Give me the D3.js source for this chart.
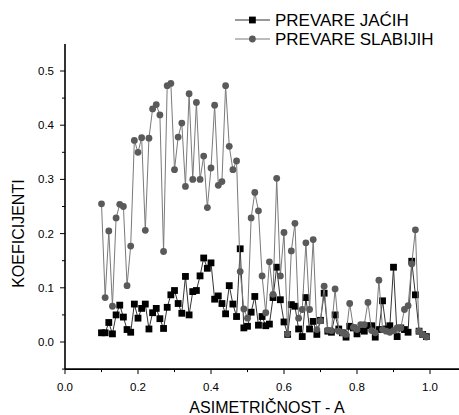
<!DOCTYPE html>
<meta charset="utf-8">
<style>
body{ margin:0; background:#fff; }
svg text{ font-family:"Liberation Sans", Arial, sans-serif; fill:#000; }
.axis path, .axis line{ stroke:#000; }
</style>
<body>
<script src="https://cdn.jsdelivr.net/npm/d3@7"></script>
<script>

var width = 459,
    height = 415;

// asimetricnost A (x)
var xValues = d3.range(10, 100).map(function(i){ return i / 100; });

// PREVARE JACIH (black squares)
var jacih = [0.017,0.017,0.036,0.015,0.050,0.068,0.046,0.023,0.018,0.070,
             0.044,0.062,0.070,0.024,0.054,0.062,0.043,0.025,0.064,0.087,
             0.095,0.071,0.053,0.121,0.050,0.093,0.095,0.122,0.155,0.136,
             0.146,0.079,0.085,0.071,0.052,0.104,0.070,0.047,0.172,0.026,
             0.029,0.055,0.084,0.031,0.047,0.030,0.033,0.082,0.138,0.078,
             0.037,0.014,0.069,0.066,0.024,0.010,0.082,0.024,0.038,0.014,
             0.040,0.090,0.020,0.018,0.050,0.024,0.017,0.009,0.029,0.026,
             0.015,0.023,0.020,0.030,0.030,0.009,0.023,0.076,0.024,0.030,
             0.138,0.010,0.026,0.023,0.018,0.149,0.087,0.020,0.014,0.010];

// PREVARE SLABIJIH (grey circles)
var slabijih = [0.255,0.082,0.205,0.066,0.229,0.254,0.250,0.104,0.177,0.372,
                0.350,0.377,0.206,0.376,0.430,0.438,0.419,0.167,0.473,0.477,
                0.318,0.378,0.404,0.287,0.458,0.300,0.442,0.300,0.343,0.248,
                0.321,0.437,0.289,0.296,0.473,0.361,0.318,0.334,0.130,0.061,
                0.044,0.229,0.276,0.242,0.122,0.054,0.148,0.088,0.302,0.122,
                0.202,0.015,0.168,0.219,0.044,0.060,0.183,0.060,0.189,0.023,
                0.039,0.103,0.022,0.021,0.098,0.020,0.017,0.014,0.071,0.027,
                0.023,0.032,0.032,0.073,0.021,0.017,0.114,0.023,0.020,0.018,
                0.021,0.026,0.026,0.060,0.067,0.144,0.207,0.020,0.014,0.009];

var xTicks = [0.0, 0.2, 0.4, 0.6, 0.8, 1.0];
var yTicks = [0.0, 0.1, 0.2, 0.3, 0.4, 0.5];

var x = d3.scaleLinear().domain([0, 1]).range([65, 430]);
var y = d3.scaleLinear().domain([0, 0.5]).range([342, 71]);

var svg = d3.select("body").append("svg")
    .attr("width", width)
    .attr("height", height);

// axes
var xAxis = svg.append("g").attr("class","axis")
    .attr("transform","translate(0," + y(-0.05) + ")");
xAxis.append("line")
    .attr("x1", x(0)).attr("x2", width)
    .attr("stroke-width", 1.6);
xAxis.selectAll(".minor")
    .data(d3.range(1, 11, 2).map(function(i){ return i / 10; }))
    .enter().append("line")
    .attr("x1", function(d){ return x(d); })
    .attr("x2", function(d){ return x(d); })
    .attr("y1", 0).attr("y2", 3);
xAxis.selectAll(".major")
    .data(xTicks)
    .enter().append("line")
    .attr("x1", function(d){ return x(d); })
    .attr("x2", function(d){ return x(d); })
    .attr("y1", 0).attr("y2", 5);
xAxis.selectAll("text")
    .data(xTicks)
    .enter().append("text")
    .attr("x", function(d){ return x(d); })
    .attr("y", 22)
    .attr("text-anchor","middle")
    .style("font-size","11.5px")
    .text(d3.format(".1f"));

var yAxis = svg.append("g").attr("class","axis")
    .attr("transform","translate(" + x(0) + ",0)");
yAxis.append("line")
    .attr("y1", y(-0.05)).attr("y2", y(0.55))
    .attr("stroke-width", 1.6);
yAxis.selectAll(".minor")
    .data(d3.range(-1, 11, 2).map(function(i){ return i / 20; }))
    .enter().append("line")
    .attr("y1", function(d){ return y(d); })
    .attr("y2", function(d){ return y(d); })
    .attr("x1", 0).attr("x2", -3);
yAxis.selectAll(".major")
    .data(yTicks)
    .enter().append("line")
    .attr("y1", function(d){ return y(d); })
    .attr("y2", function(d){ return y(d); })
    .attr("x1", 0).attr("x2", -5);
yAxis.selectAll("text")
    .data(yTicks)
    .enter().append("text")
    .attr("x", -11)
    .attr("y", function(d){ return y(d); })
    .attr("dy", "0.35em")
    .attr("text-anchor","end")
    .style("font-size","11.5px")
    .text(d3.format(".1f"));

svg.append("text")
    .attr("x", 267)
    .attr("y", 413)
    .attr("text-anchor","middle")
    .style("font-size","16px")
    .text("ASIMETRIČNOST - A");

svg.append("text")
    .attr("transform","translate(24," + y(0.2) + ") rotate(-90)")
    .attr("text-anchor","middle")
    .style("font-size","16px")
    .text("KOEFICIJENTI");

// series
var line = d3.line()
    .x(function(d, i){ return x(xValues[i]); })
    .y(function(d){ return y(d); });

svg.append("path")
    .datum(jacih)
    .attr("d", line)
    .attr("fill","none")
    .attr("stroke","#333")
    .attr("stroke-width",1);

svg.selectAll(".sq")
    .data(jacih)
    .enter().append("rect")
    .attr("class","sq")
    .attr("x", function(d, i){ return x(xValues[i]) - 3.4; })
    .attr("y", function(d){ return y(d) - 3.4; })
    .attr("width", 6.8).attr("height", 6.8)
    .attr("fill","#000");

svg.append("path")
    .datum(slabijih)
    .attr("d", line)
    .attr("fill","none")
    .attr("stroke","#7a7a7a")
    .attr("stroke-width",1);

svg.selectAll(".ci")
    .data(slabijih)
    .enter().append("circle")
    .attr("class","ci")
    .attr("cx", function(d, i){ return x(xValues[i]); })
    .attr("cy", function(d){ return y(d); })
    .attr("r", 3.4)
    .attr("fill","#5a5a5a");

// legend
var legendData = [
    {name:"PREVARE JAĆIH", stroke:"#333", shape:"square"},
    {name:"PREVARE SLABIJIH", stroke:"#7a7a7a", shape:"circle"}
];
var legend = svg.selectAll(".legend")
    .data(legendData)
    .enter().append("g")
    .attr("class","legend")
    .attr("transform", function(d, i){ return "translate(235," + (20 + i * 19) + ")"; });
legend.append("line")
    .attr("x1", 0).attr("x2", 35)
    .attr("stroke", function(d){ return d.stroke; });
legend.filter(function(d){ return d.shape == "square"; })
    .append("rect")
    .attr("x", 14).attr("y", -3.4)
    .attr("width", 6.8).attr("height", 6.8)
    .attr("fill","#000");
legend.filter(function(d){ return d.shape == "circle"; })
    .append("circle")
    .attr("cx", 17.4).attr("r", 3.4)
    .attr("fill","#5a5a5a");
legend.append("text")
    .attr("x", 40)
    .attr("dy","0.35em")
    .style("font-size","17px")
    .text(function(d){ return d.name; });

</script>
